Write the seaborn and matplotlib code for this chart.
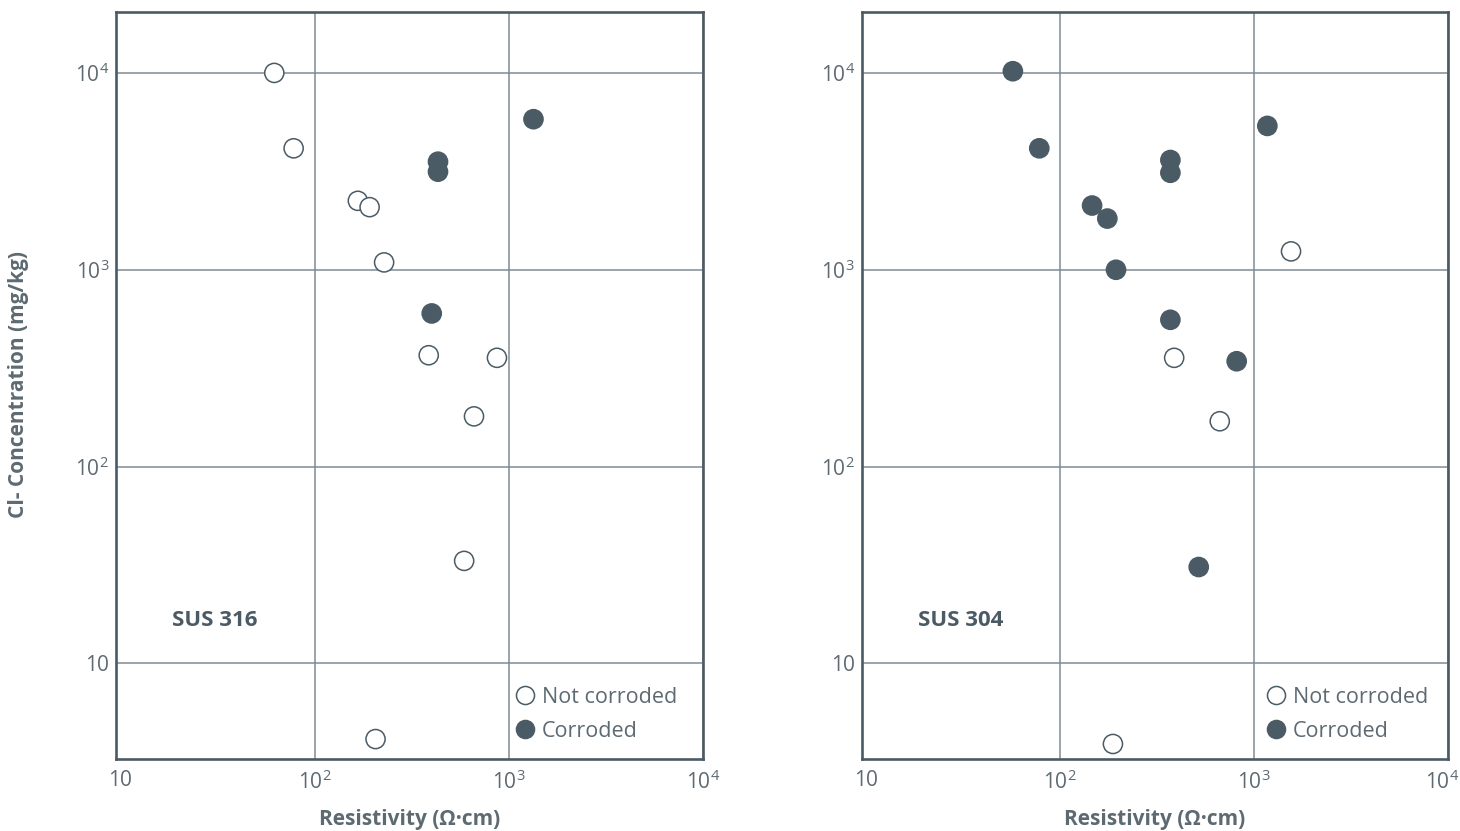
import matplotlib
matplotlib.use("Agg")
import matplotlib.pyplot as plt
from matplotlib.lines import Line2D
import matplotlib.ticker as mticker
import matplotlib.transforms as mtransforms
import pandas as pd
import seaborn as sns

# data (x: resistivity, y: Cl- concentration)
s316_open_x = [62, 78, 167, 192, 228, 387, 869, 662, 589, 206]
s316_open_y = [10000, 4140, 2240, 2080, 1090, 368, 357, 180, 33.2, 4.13]
s316_corr_x = [432, 432, 1340, 401]
s316_corr_y = [3540, 3150, 5820, 600]

s304_open_x = [1550, 387, 665, 187]
s304_open_y = [1240, 357, 170, 3.9]
s304_corr_x = [57, 78, 146, 175, 194, 370, 370, 1170, 370, 813, 518]
s304_corr_y = [10200, 4140, 2120, 1820, 1000, 3610, 3110, 5380, 557, 343, 30.9]

statuses = ["Not corroded", "Corroded"]
tick_vals = [10, 100, 1000, 10000]
tick_labels = ["10", r"$\mathregular{10^2}$", r"$\mathregular{10^3}$", r"$\mathregular{10^4}$"]

dark = "#4b5b65"
grid_c = "#7f8b93"
text_c = "#5d6a72"

sns.set_theme(style="white")
plt.rcParams["font.family"] = ["Open Sans", "DejaVu Sans"]
plt.rcParams["mathtext.fontset"] = "custom"
plt.rcParams["mathtext.rm"] = "Open Sans"


def make_df(ox, oy, cx, cy):
    d1 = pd.DataFrame({"res": ox, "cl": oy, "status": statuses[0]})
    d2 = pd.DataFrame({"res": cx, "cl": cy, "status": statuses[1]})
    return pd.concat([d1, d2], ignore_index=True)


fig = plt.figure(figsize=(14.6, 8.31), dpi=100)
ax1 = fig.add_axes([0.0795, 0.0866, 0.402, 0.899])
ax2 = fig.add_axes([0.5904, 0.0866, 0.4014, 0.899])

panels = [
    (ax1, make_df(s316_open_x, s316_open_y, s316_corr_x, s316_corr_y), "SUS 316", 0.652),
    (ax2, make_df(s304_open_x, s304_open_y, s304_corr_x, s304_corr_y), "SUS 304", 0.662),
]

for ax, df, name, leg_x in panels:
    ax.set_xscale("log")
    ax.set_yscale("log")
    ax.set_xlim(9.5, 10000)
    ax.set_ylim(3.27, 20400)
    ax.set_axisbelow(True)
    sns.scatterplot(data=df, x="res", y="cl", hue="status", hue_order=statuses,
                    palette={"Not corroded": "white", "Corroded": dark},
                    edgecolor=dark, linewidth=1.1, s=190, ax=ax, legend=False,
                    zorder=3)
    ax.xaxis.set_major_locator(mticker.FixedLocator(tick_vals))
    ax.yaxis.set_major_locator(mticker.FixedLocator(tick_vals))
    ax.xaxis.set_minor_locator(mticker.NullLocator())
    ax.yaxis.set_minor_locator(mticker.NullLocator())
    ax.set_xticklabels(tick_labels)
    ax.set_yticklabels(tick_labels)
    ax.grid(True, which="major", color=grid_c, linewidth=1.1)
    # no separate grid line at x=10, the frame sits there
    ax.get_xgridlines()[0].set_visible(False)
    ax.tick_params(length=0, labelsize=15, labelcolor=text_c)
    ax.tick_params(axis="y", pad=5)
    ax.tick_params(axis="x", pad=8)
    for sp in ax.spines.values():
        sp.set_visible(True)
        sp.set_color(dark)
        sp.set_linewidth(1.9)
    ax.set_xlabel("Resistivity (Ω·cm)", fontsize=15, fontweight="bold",
                  color=text_c, labelpad=11)
    ax.set_ylabel("")
    ax.text(0.095, 0.186, name, transform=ax.transAxes, fontsize=16,
            fontweight="bold", color=dark, ha="left", va="center")
    handles = [
        Line2D([], [], marker="o", linestyle="", markersize=13,
               markerfacecolor="white", markeredgecolor=dark, markeredgewidth=1.1),
        Line2D([], [], marker="o", linestyle="", markersize=13,
               markerfacecolor=dark, markeredgecolor=dark, markeredgewidth=1.1),
    ]
    ax.legend(handles, statuses, loc="lower left", bbox_to_anchor=(leg_x, 0.003),
              frameon=False, fontsize=15.5, handletextpad=0.3, labelspacing=0.6,
              handlelength=1.0, labelcolor=text_c, borderaxespad=0.3)

# keep the last x label of the right panel inside the figure
last = ax2.get_xticklabels()[-1]
last.set_transform(last.get_transform() +
                   mtransforms.ScaledTranslation(-0.06, 0, fig.dpi_scale_trans))

fig.text(0.013, 0.537, "Cl- Concentration (mg/kg)", rotation=90, fontsize=15,
         fontweight="bold", color=text_c, ha="center", va="center")

fig.savefig("out.png", dpi=100)
